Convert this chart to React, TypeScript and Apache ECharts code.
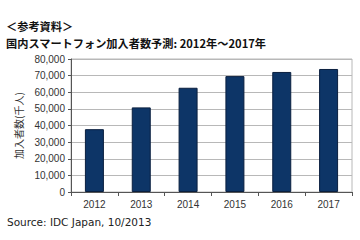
import React, { useEffect, useRef } from "react";
import * as echarts from "echarts";

const categories = ["2012", "2013", "2014", "2015", "2016", "2017"];
const subscribers = [37800, 50900, 62700, 69700, 72200, 74000];
const yTicks = [0, 10000, 20000, 30000, 40000, 50000, 60000, 70000, 80000];

export default function App() {
  const ref = useRef<HTMLDivElement>(null);
  useEffect(() => {
    if (!ref.current) return;
    const chart = echarts.init(ref.current, null, { renderer: "svg" });
    chart.setOption({
      animation: false,
      backgroundColor: "#ffffff",
      graphic: [
        {
          type: "text",
          x: 6,
          y: 26,
          style: {
            text: "＜参考資料＞",
            fontSize: 11.2,
            lineHeight: 12,
            fontWeight: "bold",
            fill: "#111",
            fontFamily: "Noto Sans CJK JP",
            verticalAlign: "middle",
          },
        },
        {
          type: "text",
          x: 6,
          y: 42.5,
          style: {
            text: "国内スマートフォン加入者数予測: 2012年～2017年",
            fontSize: 11.2,
            lineHeight: 12,
            fontWeight: "bold",
            fill: "#111",
            fontFamily: "Noto Sans CJK JP",
            verticalAlign: "middle",
          },
        },
        {
          type: "text",
          x: 7,
          y: 222,
          style: {
            text: "Source: IDC Japan, 10/2013",
            fontSize: 10.5,
            fill: "#222",
            fontFamily: "DejaVu Sans",
            verticalAlign: "middle",
          },
        },
      ],
      grid: {
        left: 71,
        right: 8,
        top: 59,
        bottom: 48,
        show: true,
        borderColor: "#b8b8b8",
        borderWidth: 1,
      },
      xAxis: {
        type: "category",
        data: categories,
        axisLine: { lineStyle: { color: "#555" } },
        axisTick: { show: true, length: 4, lineStyle: { color: "#555" } },
        axisLabel: { fontSize: 10, color: "#333", fontFamily: "Liberation Sans", margin: 7 },
      },
      yAxis: {
        type: "value",
        min: yTicks[0],
        max: yTicks[yTicks.length - 1],
        interval: 10000,
        name: "加入者数(千人)",
        nameLocation: "middle",
        nameGap: 40,
        nameRotate: 90,
        nameTextStyle: { fontSize: 10, color: "#333", fontFamily: "Noto Sans CJK JP" },
        axisLine: { show: true, lineStyle: { color: "#555" } },
        axisTick: { show: true, length: 3, lineStyle: { color: "#555" } },
        axisLabel: {
          fontSize: 10,
          color: "#333",
          fontFamily: "Liberation Sans",
          margin: 6,
          formatter: (v: number) => v.toLocaleString("en-US"),
        },
        splitLine: { show: true, lineStyle: { color: "#b8b8b8", width: 1 } },
      },
      series: [
        {
          type: "bar",
          data: subscribers,
          barWidth: 19,
          itemStyle: { color: "#0d3567", borderColor: "#0a1f3f", borderWidth: 1 },
        },
      ],
    });
    return () => chart.dispose();
  }, []);
  return <div ref={ref} style={{ width: 360, height: 240, position: "absolute", left: 0, top: 0 }} />;
}
